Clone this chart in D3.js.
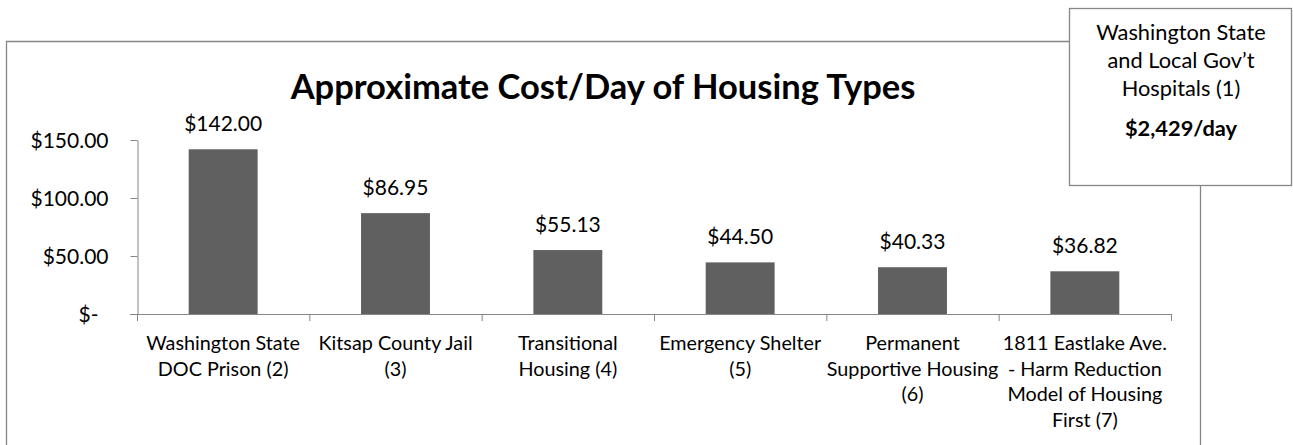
<!DOCTYPE html>
<html>
<head>
<meta charset="utf-8">
<script src="https://cdn.jsdelivr.net/npm/d3@7"></script>
<style>
  html, body { margin: 0; padding: 0; background: #fff; }
  svg { display: block; }
  text { font-family: Lato, "Open Sans", sans-serif; fill: #000; }
</style>
</head>
<body>
<svg id="chart" width="1293" height="445"></svg>
<script>
// ---- data ----
const categories = [
  "Washington State\nDOC Prison (2)",
  "Kitsap County Jail\n(3)",
  "Transitional\nHousing (4)",
  "Emergency Shelter\n(5)",
  "Permanent\nSupportive Housing\n(6)",
  "1811 Eastlake Ave.\n- Harm Reduction\nModel of Housing\nFirst (7)"
];
const costs = [142.00, 86.95, 55.13, 44.50, 40.33, 36.82];
const yTicks = [0, 50, 100, 150];
const chartTitle = "Approximate Cost/Day of Housing Types";
const calloutLines = ["Washington State", "and Local Gov\u2019t", "Hospitals (1)"];
const calloutValue = "$2,429/day";

// ---- drawing ----
const svg = d3.select("#chart");
const gray = "#868686";

// chart frame (partially hidden under the callout box)
svg.append("path")
  .attr("d", "M6.5,445 V41.5 H1200.5 V445")
  .attr("fill", "none").attr("stroke", gray).attr("stroke-width", 1.3);

const x = d3.scaleBand().domain(categories).range([137, 1171])
  .paddingInner(0.6).paddingOuter(0.3);
const y = d3.scaleLinear().domain([0, 150]).range([314, 140]);

// title
const title = svg.append("text")
  .attr("x", 603).attr("y", 99)
  .attr("text-anchor", "middle")
  .attr("font-weight", "bold")
  .attr("font-size", 30)
  .text(chartTitle);
{
  const w = title.node().getComputedTextLength();
  title.attr("font-size", 30 * 625 / w);
}

// y axis
const money = d3.format("$,.2f");
const yAxis = svg.append("g")
  .attr("transform", "translate(137.5,0)")
  .call(d3.axisLeft(y).tickValues(yTicks).tickSize(7).tickSizeOuter(0)
    .tickFormat(d => d === 0 ? "$-" : money(d)));
yAxis.select(".domain").attr("stroke", gray);
yAxis.selectAll(".tick line").attr("stroke", gray);
yAxis.selectAll(".tick text")
  .attr("x", d => d === 0 ? -39 : -29)
  .attr("dy", "0.36em")
  .attr("font-size", 21)
  .style("font-family", "Lato, sans-serif")
  .attr("fill", "#000");

// bars
svg.append("g").selectAll("rect")
  .data(costs)
  .join("rect")
  .attr("x", (d, i) => x(categories[i]))
  .attr("width", x.bandwidth())
  .attr("y", d => y(d))
  .attr("height", d => y(0) - y(d))
  .attr("fill", "#606060");

// value labels
svg.append("g").selectAll("text")
  .data(costs)
  .join("text")
  .attr("x", (d, i) => x(categories[i]) + x.bandwidth() / 2)
  .attr("y", d => y(d) - 18.5)
  .attr("text-anchor", "middle")
  .attr("font-size", 21)
  .text(d => money(d));

// x axis line and boundary ticks
const step = x.step();
const x0 = x.range()[0];
svg.append("line")
  .attr("x1", 130).attr("x2", x.range()[1])
  .attr("y1", y(0) + 0.5).attr("y2", y(0) + 0.5)
  .attr("stroke", gray);
svg.append("g").selectAll("line")
  .data(d3.range(categories.length + 1))
  .join("line")
  .attr("x1", i => x0 + i * step + 0.5).attr("x2", i => x0 + i * step + 0.5)
  .attr("y1", y(0)).attr("y2", y(0) + 7)
  .attr("stroke", gray);

// category labels
const catG = svg.append("g").selectAll("text")
  .data(categories)
  .join("text")
  .attr("x", d => x(d) + x.bandwidth() / 2)
  .attr("y", 350)
  .attr("text-anchor", "middle")
  .attr("font-size", 19.8);
catG.each(function(d) {
  const t = d3.select(this);
  d.split("\n").forEach((line, k) => {
    t.append("tspan")
      .attr("x", x(d) + x.bandwidth() / 2)
      .attr("dy", k === 0 ? 0 : 25.7)
      .text(line);
  });
});

// callout box
svg.append("rect")
  .attr("x", 1069.5).attr("y", 8.5)
  .attr("width", 222).attr("height", 177)
  .attr("fill", "#fff").attr("stroke", gray).attr("stroke-width", 1.3);
const cx = 1181;
calloutLines.forEach((line, k) => {
  svg.append("text")
    .attr("x", cx).attr("y", 40 + k * 28)
    .attr("text-anchor", "middle")
    .attr("font-size", 21.8)
    .text(line);
});
svg.append("text")
  .attr("x", cx).attr("y", 136)
  .attr("text-anchor", "middle")
  .attr("font-weight", "bold")
  .attr("font-size", 21.8)
  .text(calloutValue);
</script>
</body>
</html>
